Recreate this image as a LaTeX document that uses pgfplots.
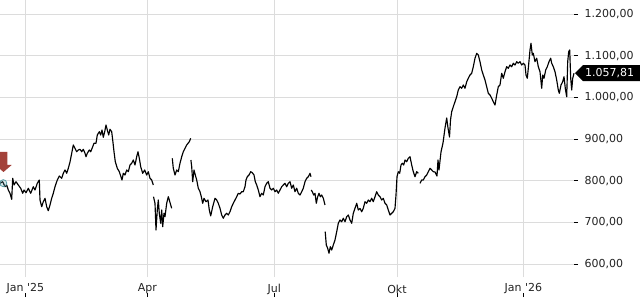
\documentclass[border=0pt]{standalone}
\usepackage{fontspec}
\setmainfont{DejaVu Sans}[Ligatures=TeXOff]
\usepackage{pgfplots}
\usepackage{pgfplotstable}
\pgfplotsset{compat=1.18}
\definecolor{gridgray}{HTML}{DCDCDC}
\definecolor{arrowred}{HTML}{A3423A}
\definecolor{evteal}{HTML}{5B9EA6}
\definecolor{labelgray}{HTML}{222222}

\pgfplotstableread{
x y
0 793.7
2.7 797.5
5 785.5
6.7 789.6
8.3 777.6
10 769.7
11.7 755.3
12.7 805.7
14 789.6
16 797.5
18.3 789.6
20.7 781.7
22.7 769.7
24 777.6
26 771.1
28.3 781.7
30.7 769.7
33.3 785.5
35 777.6
37.3 793.7
39.3 801.6
40 753.6
41.7 737.5
43.3 749.5
45 757.7
46.7 737.5
48.3 727.9
50 741.6
51.7 757.7
53.3 769.7
55 785.5
57.3 801.6
59.3 811.2
61.7 805.7
63.3 817.7
65 825.6
66.7 817.7
68.3 829.7
70 844.8
71.7 865.7
73.3 885.6
75 877.7
76.7 869.5
78.3 873.6
80 875.3
81.7 869.5
83.3 875.3
85 865.7
86 857.5
87.3 865.7
89.3 873.6
90.7 869.5
92.7 881.5
94 889.7
96 889.7
97.3 909.6
99.3 917.5
100.7 909.6
102 921.6
103.3 904.1
104.7 917.5
106 933.6
107.3 921.6
108.7 909.6
110 923.3
111.7 917.5
112.7 897.6
114 869.5
115.3 845.5
117.3 829.7
119.3 821.5
120.7 811.2
122 801.6
123.3 817.7
125 813.6
126.7 825.6
128.3 821.5
130 837.6
131.7 841.7
133.3 849.6
135 837.6
136.7 857.5
138 869.5
139.3 853.7
140.7 833.5
142.7 817.7
144.7 825.6
146.7 813.6
148.3 821.5
150 805.7
151.7 801.6
153.3 789.6
153.4 nan
153.5 761.5
155 745.7
156 681.6
157.3 729.6
158.3 753.6
159.3 721.7
160.7 697.7
161.7 729.6
162.7 689.5
164 721.7
165 713.5
166.7 745.7
168.3 761.5
169.3 753.6
170.7 741.6
171.7 733.7
172 nan
172.3 853.7
173.3 829.7
175 813.6
176.7 825.6
178.3 821.5
180 841.7
181.7 857.5
183.3 869.5
185 877.7
186.7 885.6
189.3 893.5
190.7 901.7
190.8 nan
190.9 849.6
191.7 833.5
192.7 797.5
194 825.6
195.3 813.6
196.7 801.6
198.3 781.7
200 773.5
201.3 761.5
202.7 745.7
204 757.7
206 749.5
208 753.6
209.3 729.6
210.7 715.5
212.7 737.5
215 757.7
216.7 753.6
218.3 745.7
220 733.7
221.7 717.6
223.3 709.7
225 717.6
226.7 721.7
228.3 717.6
230 725.5
231.7 737.5
233.3 745.7
235 753.6
236.7 761.5
238.3 769.7
240 768.0
241.7 773.5
243.3 773.5
245 785.5
246 801.6
247.3 809.5
249 813.6
250.7 821.5
252.3 819.1
254 813.6
255.3 797.5
256.7 789.6
258.3 777.6
260 761.5
261.7 769.7
263.3 765.6
265 785.5
266.7 793.7
268.3 797.5
270 781.7
271.7 777.6
273.3 781.7
275 773.5
276.7 777.6
278.3 769.7
280 777.6
281.7 785.5
283.3 789.6
285 793.7
286.7 785.5
288.3 793.7
290 797.5
291.7 781.7
293.3 789.6
295 773.5
296.7 781.7
298.3 769.7
300 765.6
301.7 773.5
303.3 781.7
305 797.5
306.7 805.7
308.3 809.5
310 817.7
311 809.5
311.1 nan
311.2 777.6
312.3 773.5
313.7 765.6
315 769.7
316.3 745.7
317.7 761.5
319 769.7
320.3 761.5
321.7 765.6
323.3 757.7
325 741.6
325.1 nan
325.2 677.5
326.3 645.6
327.7 637.7
329 625.7
330.3 641.5
331.7 633.6
333.3 645.6
335 657.6
336.7 677.5
338.3 697.7
340 705.6
341.7 701.5
343.3 709.7
345 701.5
346.7 713.5
348.3 717.6
350 705.6
351.7 697.7
353.3 721.7
355 733.7
356.7 745.7
358.3 729.6
360 733.2
361.7 725.5
363.3 733.7
365 749.5
366.7 745.7
368.3 753.6
370 749.5
371.7 757.7
373.3 749.5
375 761.5
376.7 773.5
378.3 765.6
380 761.5
381.7 753.6
383.3 757.7
385 745.7
386.7 741.6
388.3 729.6
390 717.6
391.7 721.7
393.3 725.5
395 733.7
396 765.6
397 809.5
398.3 821.5
399.7 817.7
401 837.6
402.3 841.7
403.7 837.6
405 849.6
406.7 845.5
408.3 853.7
410 857.5
411.7 837.6
413.3 821.5
415 809.5
416.7 821.5
418.3 817.7
419 nan
420 793.7
421.7 801.6
423.3 801.6
425 809.5
426.7 813.6
428.3 821.5
430 829.7
431.7 825.6
433.3 821.5
435 820.8
437 811.2
438 849.6
439 825.6
441 868.8
443 890.4
445 926.4
446.7 950.4
448 926.4
449.5 904.8
450.5 945.6
451.7 965.5
453.3 977.5
455 989.5
456.7 1001.5
458.3 1017.6
460 1025.5
461.7 1021.7
463.3 1029.6
465 1021.7
466.7 1037.5
468.3 1045.7
470 1053.6
471.7 1057.7
473.3 1073.5
475 1093.7
476.7 1105.7
478.3 1101.6
480 1085.5
481.7 1065.6
483.3 1053.6
485 1041.6
486.7 1025.5
488.3 1009.7
490 1005.6
491.7 997.7
493.3 989.5
495 981.6
496.7 1005.6
498.3 1025.5
500 1029.6
501.7 1057.7
503.3 1045.7
505 1061.5
506.7 1073.5
508.3 1069.7
510 1077.6
511.7 1073.5
513.3 1081.7
515 1077.6
516.7 1085.5
518.3 1081.7
520 1085.5
521.7 1077.6
523.3 1081.7
525 1077.6
526 1053.6
527.3 1045.7
528.3 1069.7
530 1113.6
531 1129.7
532.3 1101.6
533.3 1105.7
535 1085.5
536.7 1093.7
538.3 1073.5
540 1061.5
541.7 1021.7
542.7 1053.6
544 1045.7
545.7 1065.6
547.3 1073.5
549 1085.5
550.7 1093.7
551.7 1081.7
553.3 1073.5
555 1061.5
556.7 1041.6
558.3 1017.6
559.3 1009.7
561 1029.6
562.7 1037.5
564 1049.5
565.3 1021.3
566.7 1001.5
567.7 1085.5
568.7 1109.5
569.7 1113.6
570.7 1045.7
571.7 1017.6
572.7 1045.7
574 1057.81
}\pricedata

\begin{document}
\begin{tikzpicture}
\begin{axis}[
  scale only axis, width=574pt, height=277pt,
  xmin=0, xmax=574, ymin=568.8, ymax=1233.6,
  axis line style={draw=none},
  clip=false,
  grid=major,
  major grid style={draw=gridgray, line width=0.8pt},
  xtick={25.3,147.3,274.3,397,523.3},
  xticklabels={Jan '25, Apr, Jul, Okt, Jan '26},
  ytick={600,700,800,900,1000,1100,1200},
  ytick pos=right, xtick pos=bottom,
  tick align=outside,
  major tick length=4pt,
  ytick style={draw=black, line width=0.7pt},
  xtick style={draw=black, line width=0.7pt, yshift=-16pt},
  yticklabel style={font=\fontsize{11}{13}\selectfont, text=labelgray, xshift=3pt},
  xticklabel style={font=\fontsize{11}{13}\selectfont, text=labelgray, anchor=center, yshift=-8pt},
  y tick label style={/pgf/number format/.cd, fixed, fixed zerofill, precision=2, use comma, 1000 sep={.}, assume math mode=true},
  unbounded coords=jump,
]
\addplot[black, line width=1.15pt, line join=round] table[x=x, y=y] {\pricedata};
\addplot[only marks, mark=*, mark size=3.5pt, mark options={draw=evteal, fill=evteal, fill opacity=0.25, line width=0.8pt}] coordinates {(3.3,794)};
\fill[arrowred] (axis cs:3.5,820.8) -- ++(8.2pt,7pt) -- ++(-4.2pt,0pt) -- ++(0pt,13pt) -- ++(-8pt,0pt) -- ++(0pt,-13pt) -- ++(-4.2pt,0pt) -- cycle;
\fill[black] (axis cs:574,1057.81) ++(1pt,0pt) -- ++(8pt,8pt) -- ++(58pt,0pt) -- ++(0pt,-16pt) -- ++(-58pt,0pt) -- cycle;
\node[anchor=west, text=white, font=\fontsize{11}{13}\selectfont, inner sep=0pt] at ([xshift=11pt]axis cs:574,1057.81) {1.057,81};
\end{axis}
\pgfresetboundingbox
\path[use as bounding box] (0,-23pt) rectangle (640pt,277pt);
\end{tikzpicture}
\end{document}
